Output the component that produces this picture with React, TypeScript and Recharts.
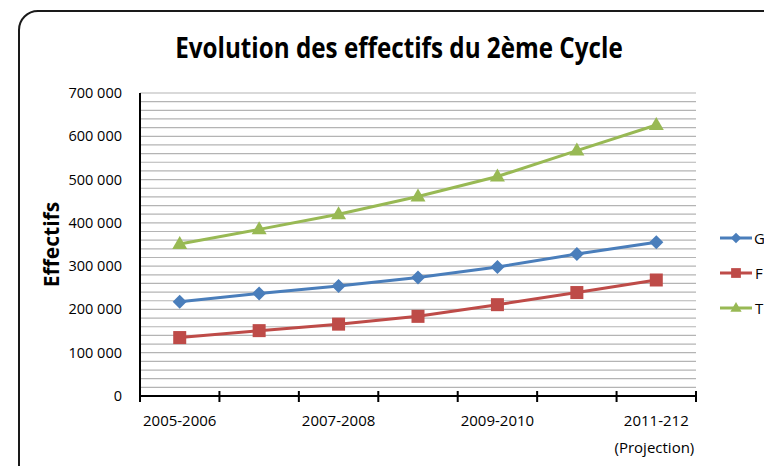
import React from "react"
import { LineChart, Line, XAxis, YAxis, CartesianGrid, Legend } from "recharts"

const categories = ["2005-2006", "2006-2007", "2007-2008", "2008-2009", "2009-2010", "2010-2011", "2011-212"]
const gValues = [218000, 237000, 254000, 274000, 298000, 328000, 355000]
const fValues = [135000, 151000, 166000, 184000, 211000, 239000, 268000]
const tValues = [351000, 385000, 420000, 461000, 507000, 567000, 626000]
const seriesOrder = ["G", "F", "T"]
const yTicks = [
  0, 20000, 40000, 60000, 80000, 100000, 120000, 140000, 160000, 180000, 200000, 220000,
  240000, 260000, 280000, 300000, 320000, 340000, 360000, 380000, 400000, 420000, 440000,
  460000, 480000, 500000, 520000, 540000, 560000, 580000, 600000, 620000, 640000, 660000,
  680000, 700000,
]

const data = categories.map((c, i) => ({ cat: c, G: gValues[i], F: fValues[i], T: tValues[i] }))

const BLUE = "#4A7EBB"
const RED = "#BE4B48"
const GREEN = "#98B954"

const W = 764
const H = 466
const PLOT_LEFT = 140
const PLOT_RIGHT = 696
const PLOT_TOP = 93
const PLOT_BOTTOM = 396
const STEP = (PLOT_RIGHT - PLOT_LEFT) / categories.length
const LEGEND_W = 46
const FONT = "'Open Sans', 'Liberation Sans', sans-serif"

const fmt = (v: number) => {
  if (v === 0) return "0"
  const s = String(v)
  return s.slice(0, s.length - 3) + " " + s.slice(-3)
}

function Marker({ kind, cx, cy, color, k = 1 }: { kind: string; cx: number; cy: number; color: string; k?: number }) {
  if (kind === "G") {
    const r = 7 * k
    return <polygon points={`${cx},${cy - r} ${cx + r},${cy} ${cx},${cy + r} ${cx - r},${cy}`} fill={color} />
  }
  if (kind === "F") {
    const s = 6.5 * k
    return <rect x={cx - s} y={cy - s} width={s * 2} height={s * 2} fill={color} />
  }
  return (
    <polygon
      points={`${cx},${cy - 8 * k} ${cx + 7.5 * k},${cy + 5 * k} ${cx - 7.5 * k},${cy + 5 * k}`}
      fill={color}
    />
  )
}

const dotFor = (kind: string, color: string) => (props: any) => (
  <Marker key={`${kind}-${props.index}`} kind={kind} cx={props.cx} cy={props.cy} color={color} />
)

function XTick(props: any) {
  const { x, y, payload } = props
  const i = payload.index
  const last = i === categories.length - 1
  return (
    <g>
      <line x1={x - STEP / 2} x2={x - STEP / 2} y1={y - 5} y2={y + 6} stroke="#000" strokeWidth={2} />
      {last && <line x1={x + STEP / 2} x2={x + STEP / 2} y1={y - 5} y2={y + 6} stroke="#000" strokeWidth={2} />}
      {i % 2 === 0 && (
        <text x={x} y={y + 30} textAnchor="middle" fontSize={15} fontFamily={FONT} fill="#000">
          {payload.value}
        </text>
      )}
      {last && (
        <text x={x + 38} y={y + 57} textAnchor="end" fontSize={15} fontFamily={FONT} fill="#000">
          (Projection)
        </text>
      )}
    </g>
  )
}

function YTick(props: any) {
  const { x, y, payload } = props
  if (payload.value % 100000 !== 0) return <g />
  return (
    <text x={x} y={y + 5} textAnchor="end" fontSize={14.5} fontFamily={FONT} fill="#000">
      {fmt(payload.value)}
    </text>
  )
}

function LegendContent(props: any) {
  const items = [...(props.payload || [])].sort(
    (a: any, b: any) => seriesOrder.indexOf(a.value) - seriesOrder.indexOf(b.value)
  )
  return (
    <div style={{ width: LEGEND_W }}>
      {items.map((it: any) => (
        <div key={it.value} style={{ display: "flex", alignItems: "center", height: 35 }}>
          <svg width={34} height={18}>
            <line x1={1} x2={33} y1={9} y2={9} stroke={it.color} strokeWidth={3} />
            <Marker kind={it.value} cx={17} cy={9} color={it.color} k={0.75} />
          </svg>
          <span style={{ fontFamily: FONT, fontSize: 15, marginLeft: 2, color: "#000" }}>{it.value}</span>
        </div>
      ))}
    </div>
  )
}

export default function App() {
  return (
    <div style={{ position: "absolute", left: 0, top: 0, width: W, height: H, overflow: "hidden", background: "#fff" }}>
      <div
        style={{
          position: "absolute",
          left: 18,
          top: 10,
          width: 800,
          height: 520,
          border: "2px solid #1a1a1a",
          borderRadius: 20,
          boxSizing: "border-box",
        }}
      />
      <div
        style={{
          position: "absolute",
          left: 0,
          top: 27,
          width: 798,
          textAlign: "center",
        }}
      >
        <span
          style={{
            display: "inline-block",
            transform: "scaleX(0.835)",
            fontFamily: FONT,
            fontWeight: 700,
            fontSize: 29,
            color: "#000",
            whiteSpace: "nowrap",
          }}
        >
          Evolution des effectifs du 2ème Cycle
        </span>
      </div>
      <div style={{ position: "absolute", left: 0, top: 0 }}>
        <LineChart
          width={W}
          height={H}
          data={data}
          margin={{ top: PLOT_TOP, right: W - PLOT_RIGHT - LEGEND_W, bottom: 0, left: 0 }}
        >
          <CartesianGrid vertical={false} stroke="#b4b4b4" strokeWidth={1.2} />
          <XAxis
            dataKey="cat"
            interval={0}
            tickLine={false}
            tickSize={0}
            tickMargin={0}
            height={H - PLOT_BOTTOM}
            padding={{ left: STEP / 2, right: STEP / 2 }}
            axisLine={{ stroke: "#000", strokeWidth: 2 }}
            tick={<XTick />}
          />
          <YAxis
            width={PLOT_LEFT}
            domain={[0, 700000]}
            ticks={yTicks}
            interval={0}
            tickLine={false}
            tickSize={0}
            tickMargin={18}
            axisLine={{ stroke: "#000", strokeWidth: 2 }}
            tick={<YTick />}
            label={{
              value: "Effectifs",
              angle: -90,
              position: "insideLeft",
              offset: 52,
              style: { fontFamily: FONT, fontWeight: 700, fontSize: 21, fill: "#000", textAnchor: "middle" },
            }}
          />
          <Legend
            layout="vertical"
            align="right"
            verticalAlign="middle"
            content={<LegendContent />}
            wrapperStyle={{ width: LEGEND_W, left: 719, top: 220 }}
          />
          <Line dataKey="G" name="G" stroke={BLUE} strokeWidth={3} dot={dotFor("G", BLUE)} isAnimationActive={false} />
          <Line dataKey="F" name="F" stroke={RED} strokeWidth={3} dot={dotFor("F", RED)} isAnimationActive={false} />
          <Line dataKey="T" name="T" stroke={GREEN} strokeWidth={3} dot={dotFor("T", GREEN)} isAnimationActive={false} />
        </LineChart>
      </div>
    </div>
  )
}
